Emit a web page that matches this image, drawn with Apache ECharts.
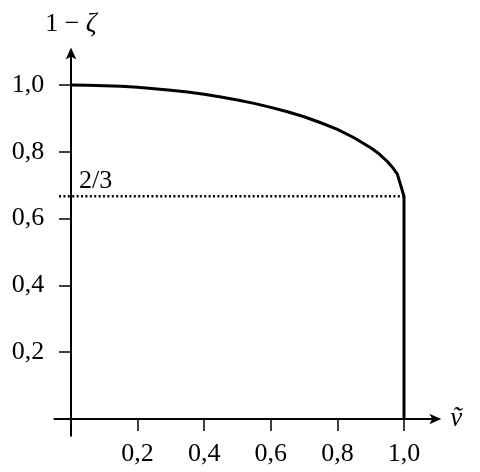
<!DOCTYPE html>
<html><head><meta charset="utf-8">
<script src="https://cdn.jsdelivr.net/npm/echarts@6/dist/echarts.min.js"></script>
<style>html,body{margin:0;padding:0;background:#fff}#c{width:480px;height:472px}</style>
</head><body><div id="c"></div>
<script>
const tickValues = [0.2, 0.4, 0.6, 0.8, 1.0];
const curveV = [0, 0.05, 0.1, 0.15, 0.2, 0.25, 0.3, 0.35, 0.4, 0.45, 0.5, 0.55, 0.6, 0.65, 0.7, 0.75, 0.8, 0.85, 0.9, 0.925, 0.95, 0.965, 0.98, 1.0, 1.0];
const curveY = [1.0, 0.9996, 0.998, 0.996, 0.993, 0.989, 0.984, 0.979, 0.972, 0.964, 0.955, 0.945, 0.933, 0.920, 0.905, 0.887, 0.867, 0.842, 0.812, 0.794, 0.771, 0.754, 0.733, 0.667, 0];
const refLevel = 2 / 3;
const refLabel = '2/3';
const yName = '1 − {i|ζ}';
const xName = 'ṽ';

const fmt = v => v.toFixed(1).replace('.', ',');
const font = "'Liberation Serif', serif";
const chart = echarts.init(document.getElementById('c'));
chart.setOption({
  animation: false,
  grid: { left: 54.35, right: 42.7, top: 51.6, bottom: 36.3, outerBoundsMode: 'none', containLabel: false },
  xAxis: {
    type: 'value', min: -0.05, max: 1.1,
    splitLine: { show: false },
    axisLine: { onZero: true, symbol: ['none', 'arrow'], symbolSize: [8, 12], symbolOffset: [0, 4], lineStyle: { color: '#000', width: 2 } },
    axisTick: { show: true, customValues: tickValues, length: 12, lineStyle: { color: '#000', width: 1.5 } },
    axisLabel: { customValues: tickValues, formatter: fmt, margin: 5, color: '#000', fontFamily: font, fontSize: 26, verticalAlign: 'top' },
    name: xName, nameLocation: 'end', nameGap: 13,
    nameTextStyle: { fontFamily: font, fontStyle: 'italic', fontSize: 27, color: '#000', verticalAlign: 'middle' }
  },
  yAxis: {
    type: 'value', min: -0.05, max: 1.1,
    splitLine: { show: false },
    axisLine: { onZero: true, symbol: ['none', 'arrow'], symbolSize: [8, 12], symbolOffset: [0, 4], lineStyle: { color: '#000', width: 2 } },
    axisTick: { show: true, customValues: tickValues, length: 12, lineStyle: { color: '#000', width: 1.5 } },
    axisLabel: { customValues: tickValues, formatter: fmt, margin: 10, color: '#000', fontFamily: font, fontSize: 26 },
    name: yName, nameLocation: 'end', nameGap: 14,
    nameTextStyle: { fontFamily: font, fontSize: 26, color: '#000', align: 'center',
      rich: { i: { fontFamily: font, fontStyle: 'italic', fontSize: 27, color: '#000' } } }
  },
  series: [
    {
      type: 'line', silent: true, symbol: 'none',
      data: [[-0.036, refLevel], [1.0, refLevel]],
      lineStyle: { color: '#000', width: 2.5, type: [2, 2.4] },
      z: 1
    },
    {
      type: 'line', silent: true, symbol: 'none',
      data: curveV.map((v, i) => [v, curveY[i]]),
      lineStyle: { color: '#000', width: 3, join: 'round' },
      z: 3
    },
    {
      type: 'scatter', silent: true, symbolSize: 0,
      itemStyle: { opacity: 1 },
      data: [[0, refLevel]],
      label: { show: true, formatter: refLabel, position: 'right', align: 'left', verticalAlign: 'bottom', offset: [3, -2],
        color: '#000', opacity: 1, fontFamily: font, fontSize: 26 }
    }
  ]
});
</script></body></html>
